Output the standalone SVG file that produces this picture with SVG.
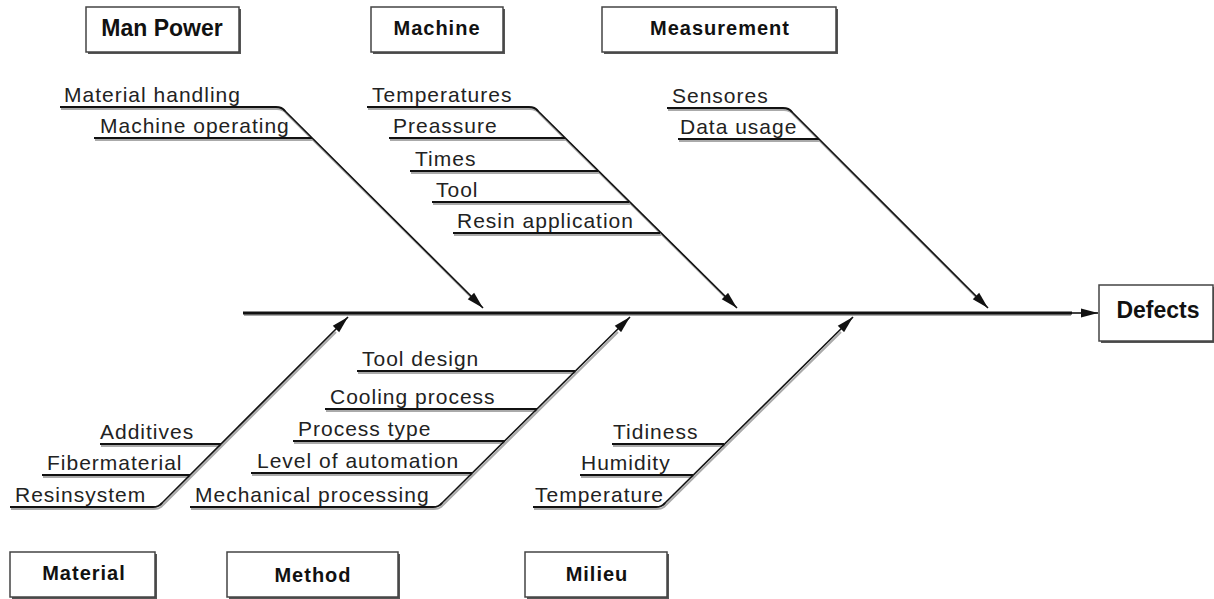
<svg xmlns="http://www.w3.org/2000/svg" width="1214" height="599" viewBox="0 0 1214 599">
<style>
.box{fill:#fff;stroke:#444;stroke-width:1.5}
.bsh{fill:#555}
.bt{font-family:"Liberation Sans",Arial,sans-serif;font-weight:bold;font-size:20px;letter-spacing:1px;fill:#111;text-anchor:middle}
.bt2{font-family:"Liberation Sans",Arial,sans-serif;font-weight:bold;font-size:23px;fill:#111;text-anchor:middle}
.lb{font-family:"Liberation Sans",Arial,sans-serif;font-size:21px;letter-spacing:1px;fill:#222}
.ln{fill:none;stroke:#111;stroke-width:2}
.sh{fill:none;stroke:#aaa;stroke-width:2}
.ar{fill:none;stroke:#111;stroke-width:1.6}
</style>
<defs>
<marker id="ah" markerUnits="userSpaceOnUse" markerWidth="18" markerHeight="10" refX="17" refY="5" orient="auto">
<path d="M0,0.5 L17,5 L0,9.5 Z" fill="#111"/>
</marker>
</defs>

<g id="node-manpower">
<rect class="bsh" x="88" y="9" width="153" height="45"/>
<rect class="box" x="86" y="7" width="153" height="45"/>
<text class="bt2" x="162" y="36">Man Power</text>
</g>
<g id="node-machine">
<rect class="bsh" x="373" y="9" width="132" height="45"/>
<rect class="box" x="371" y="7" width="132" height="45"/>
<text class="bt" x="437" y="35">Machine</text>
</g>
<g id="node-measurement">
<rect class="bsh" x="604" y="9" width="234" height="45"/>
<rect class="box" x="602" y="7" width="234" height="45"/>
<text class="bt" x="720" y="35">Measurement</text>
</g>
<g id="node-defects">
<rect class="bsh" x="1101" y="287" width="114" height="56"/>
<rect class="box" x="1099" y="285" width="114" height="56"/>
<text class="bt2" x="1158" y="318">Defects</text>
</g>
<g id="node-material">
<rect class="bsh" x="12" y="554" width="145" height="45"/>
<rect class="box" x="10" y="552" width="145" height="45"/>
<text class="bt" x="84" y="580">Material</text>
</g>
<g id="node-method">
<rect class="bsh" x="229" y="554" width="171" height="45"/>
<rect class="box" x="227" y="552" width="171" height="45"/>
<text class="bt" x="313" y="582">Method</text>
</g>
<g id="node-milieu">
<rect class="bsh" x="527" y="554" width="142" height="45"/>
<rect class="box" x="525" y="552" width="142" height="45"/>
<text class="bt" x="597" y="581">Milieu</text>
</g>

<g id="connectors">
<g transform="translate(1,2)">
<line class="sh" x1="243" y1="313" x2="1070" y2="313" stroke-width="3"/>
<path class="sh" d="M60 107 H276 Q282 107 285 111 L470 295"/>
<path class="sh" d="M94 138 H312"/>
<path class="sh" d="M367 107 H529 Q535 107 538 111 L724 295"/>
<path class="sh" d="M389 138 H565 M410 171 H598 M432 202 H629 M453 233 H660"/>
<path class="sh" d="M667 108 H783 Q789 108 792 112 L975 295"/>
<path class="sh" d="M678 139 H819"/>
<path class="sh" d="M10 507 H153 Q159 507 162 503 L335 330"/>
<path class="sh" d="M100 444 H221 M42 475 H190"/>
<path class="sh" d="M190 507 H433 Q439 507 442 503 L617 330"/>
<path class="sh" d="M357 371 H575 M325 409 H537 M293 441 H505 M251 473 H472"/>
<path class="sh" d="M533 507 H656 Q662 507 665 503 L840 330"/>
<path class="sh" d="M612 444 H724 M580 475 H693"/>
</g>
<line x1="243" y1="313" x2="1072" y2="313" stroke="#111" stroke-width="3"/>
<line class="ar" x1="1070" y1="313" x2="1098" y2="313" marker-end="url(#ah)"/>
<path class="ln" d="M60 107 H276 Q282 107 285 111"/>
<line class="ar" x1="284" y1="110" x2="483" y2="308" marker-end="url(#ah)"/>
<path class="ln" d="M94 138 H312"/>
<path class="ln" d="M367 107 H529 Q535 107 538 111"/>
<line class="ar" x1="537" y1="110" x2="737" y2="308" marker-end="url(#ah)"/>
<path class="ln" d="M389 138 H565 M410 171 H598 M432 202 H629 M453 233 H660"/>
<path class="ln" d="M667 108 H783 Q789 108 792 112"/>
<line class="ar" x1="791" y1="111" x2="988" y2="308" marker-end="url(#ah)"/>
<path class="ln" d="M678 139 H819"/>
<path class="ln" d="M10 507 H153 Q159 507 162 503"/>
<line class="ar" x1="161" y1="504" x2="348" y2="317" marker-end="url(#ah)"/>
<path class="ln" d="M100 444 H221 M42 475 H190"/>
<path class="ln" d="M190 507 H433 Q439 507 442 503"/>
<line class="ar" x1="441" y1="504" x2="630" y2="317" marker-end="url(#ah)"/>
<path class="ln" d="M357 371 H575 M325 409 H537 M293 441 H505 M251 473 H472"/>
<path class="ln" d="M533 507 H656 Q662 507 665 503"/>
<line class="ar" x1="664" y1="504" x2="853" y2="317" marker-end="url(#ah)"/>
<path class="ln" d="M612 444 H724 M580 475 H693"/>
</g>

<g id="labels">
<text class="lb" x="64" y="102">Material handling</text>
<text class="lb" x="100" y="133">Machine operating</text>
<text class="lb" x="372" y="102">Temperatures</text>
<text class="lb" x="393" y="133">Preassure</text>
<text class="lb" x="415" y="166">Times</text>
<text class="lb" x="436" y="197">Tool</text>
<text class="lb" x="457" y="228">Resin application</text>
<text class="lb" x="672" y="103">Sensores</text>
<text class="lb" x="680" y="134">Data usage</text>
<text class="lb" x="100" y="439">Additives</text>
<text class="lb" x="47" y="470">Fibermaterial</text>
<text class="lb" x="15" y="502">Resinsystem</text>
<text class="lb" x="362" y="366">Tool design</text>
<text class="lb" x="330" y="404">Cooling process</text>
<text class="lb" x="298" y="436">Process type</text>
<text class="lb" x="257" y="468">Level of automation</text>
<text class="lb" x="195" y="502">Mechanical processing</text>
<text class="lb" x="613" y="439">Tidiness</text>
<text class="lb" x="581" y="470">Humidity</text>
<text class="lb" x="535" y="502">Temperature</text>
</g>
</svg>
